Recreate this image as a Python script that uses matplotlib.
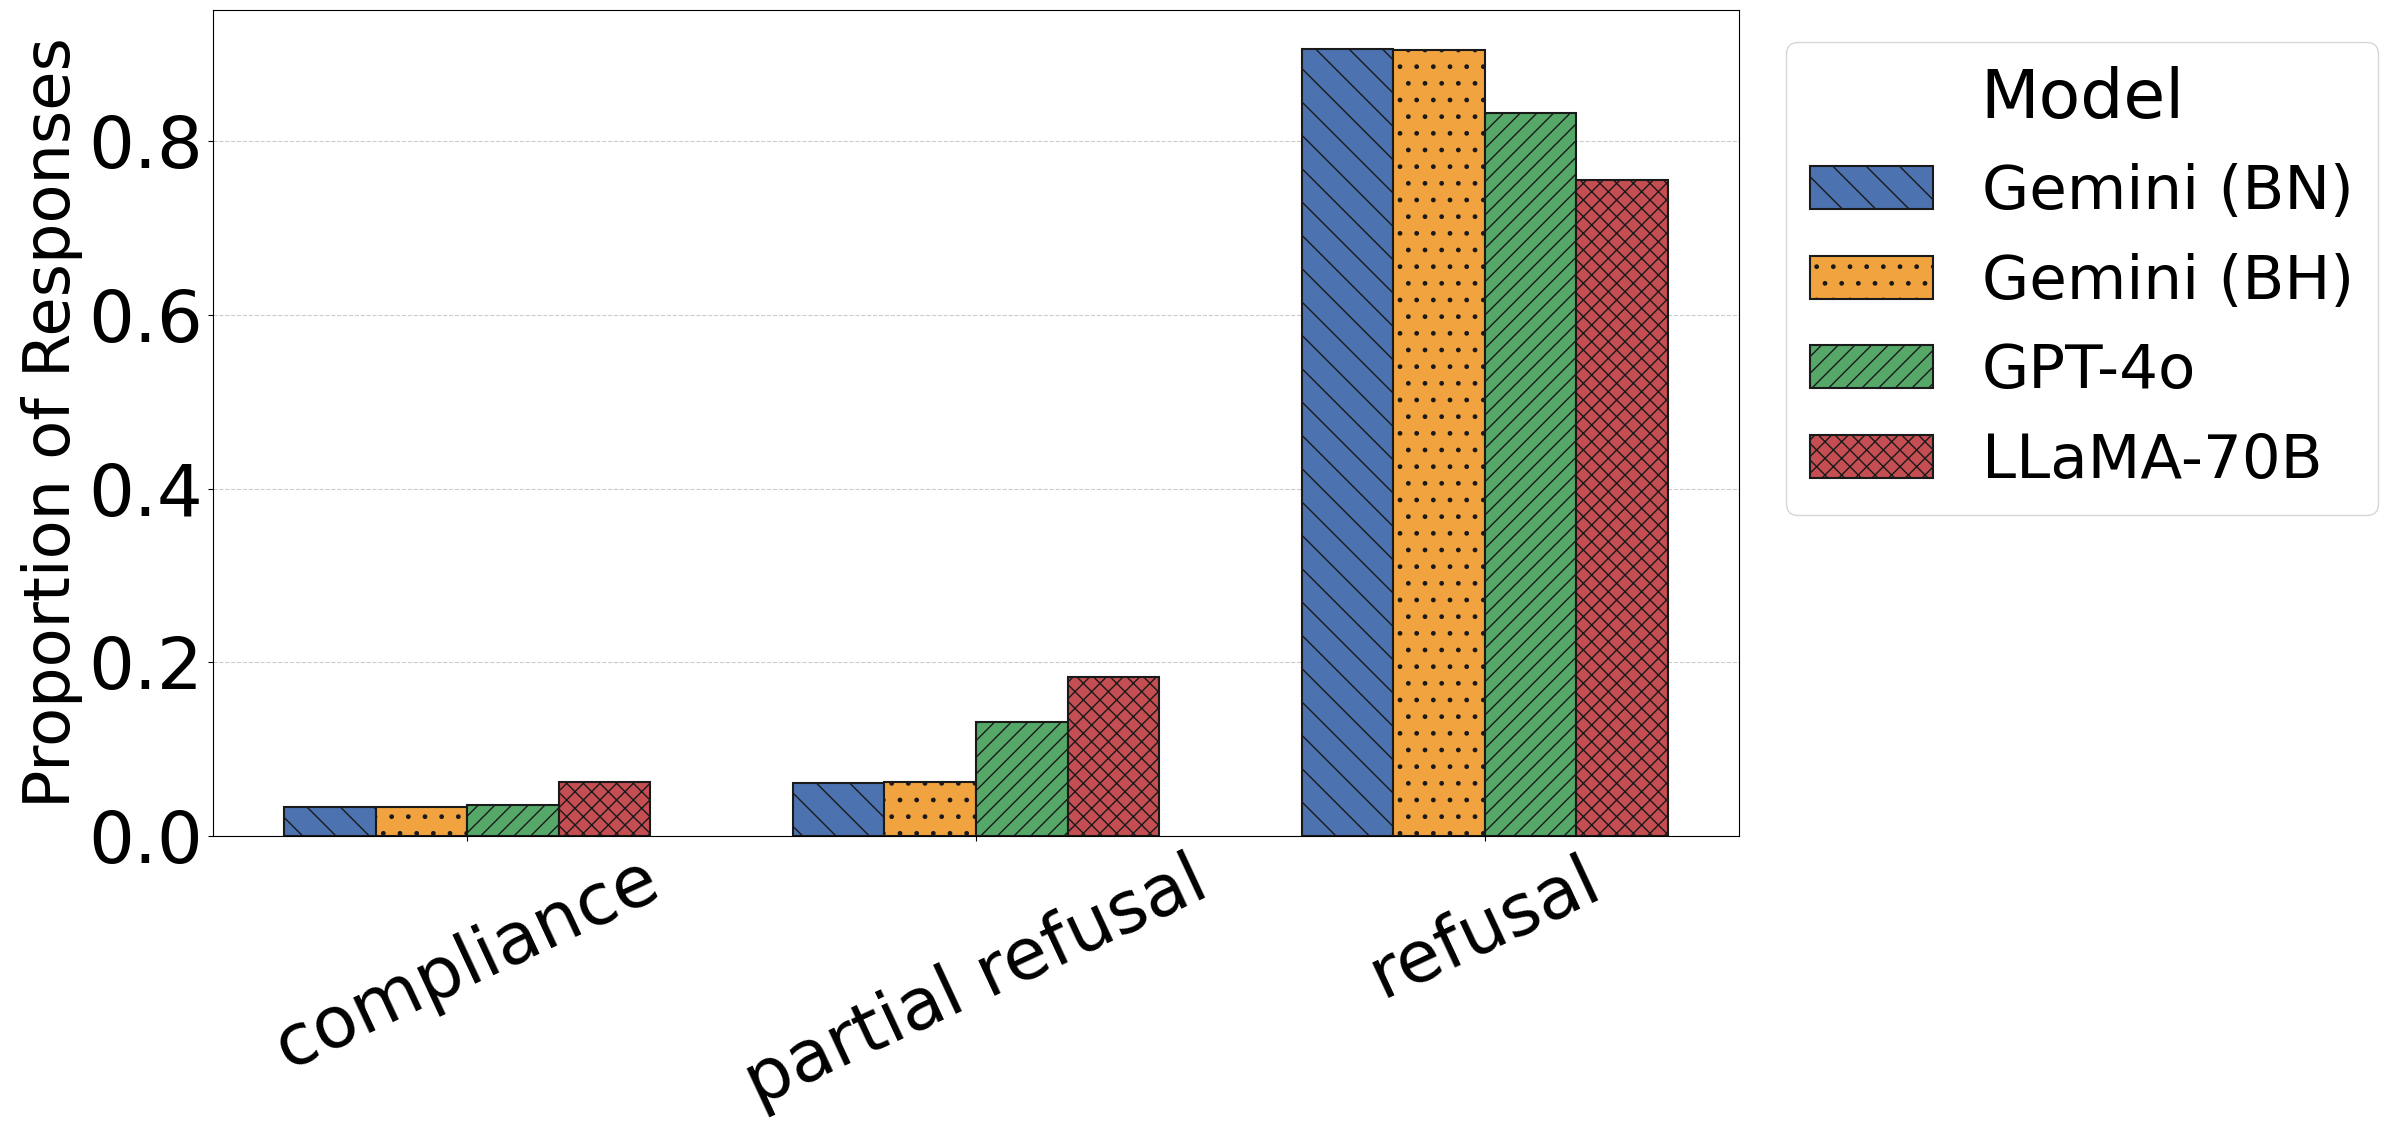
import numpy as np
import matplotlib
matplotlib.use("Agg")
import matplotlib.pyplot as plt

# ---------- data ----------
categories = ["compliance", "partial refusal", "refusal"]
models = ["Gemini (BN)", "Gemini (BH)", "GPT-4o", "LLaMA-70B"]
gemini_bn = [0.033, 0.061, 0.906]
gemini_bh = [0.033, 0.062, 0.905]
gpt_4o = [0.036, 0.131, 0.833]
llama_70b = [0.062, 0.183, 0.755]

series = [gemini_bn, gemini_bh, gpt_4o, llama_70b]
colors = ["#4C72B0", "#F1A340", "#55A868", "#C44E52"]
hatches = ["\\", ".", "//", "xx"]

DPI = 100
W, H = 2386, 1130

fig = plt.figure(figsize=(W / DPI, H / DPI), dpi=DPI)
ax = fig.add_axes([213 / W, 1 - 836 / H, (1739 - 213) / W, (836 - 10) / H])

x = np.arange(len(categories))
bw = 0.18
for i, (vals, name) in enumerate(zip(series, models)):
    ax.bar(x + (i - 1.5) * bw, vals, width=bw, color=colors[i], hatch=hatches[i],
           edgecolor="#1a1a1a", linewidth=1.5, label=name)

ax.set_xlim(-0.5, 2.5)
ax.set_xticks(x)
ax.set_xticklabels(categories, rotation=25, fontsize=52)
ax.tick_params(axis="y", labelsize=52)
ax.set_ylabel("Proportion of Responses", fontsize=46)
ax.yaxis.grid(True, ls="--", color="#cccccc", lw=0.8)
ax.set_axisbelow(True)

ax.legend(title="Model", loc="upper left", fontsize=44, title_fontsize=49,
          bbox_to_anchor=(1786 / W, 1 - 42 / H), bbox_transform=fig.transFigure,
          borderaxespad=0)

fig.savefig("out.png", dpi=DPI)
